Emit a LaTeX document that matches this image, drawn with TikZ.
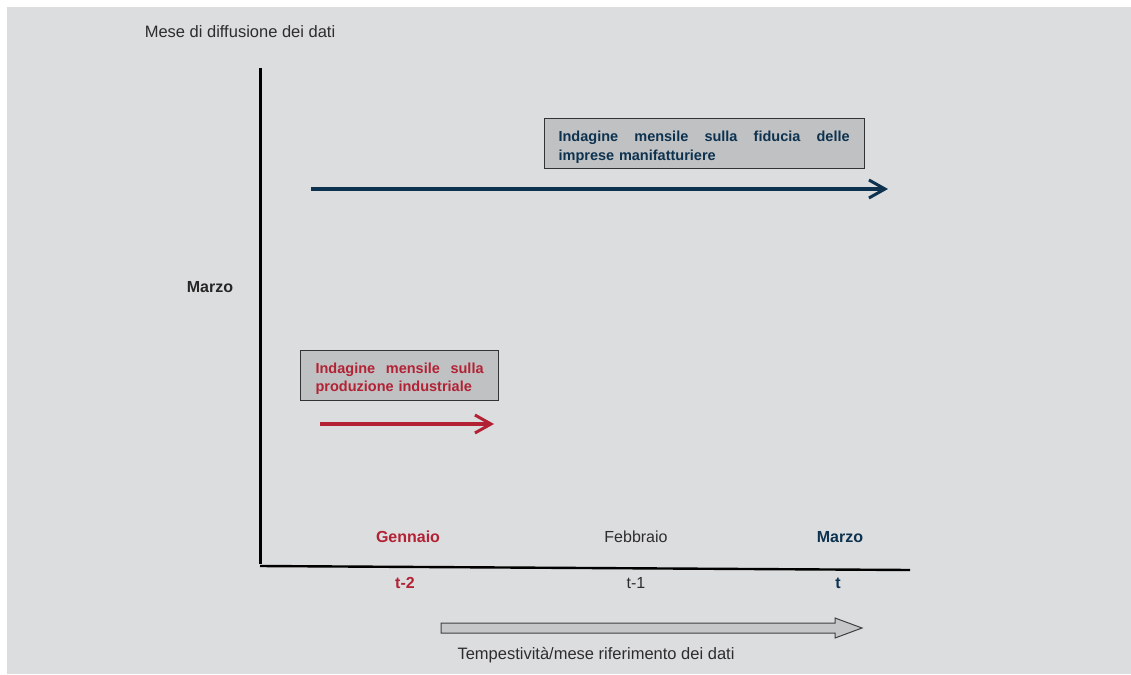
\documentclass[tikz,border=0pt]{standalone}
\usepackage{fontspec}
\setmainfont{Liberation Sans}
\usetikzlibrary{arrows.meta}
\tikzset{>=latex}

\definecolor{bgGray}{RGB}{220,221,223}
\definecolor{boxGray}{RGB}{192,193,195}
\definecolor{istatRed}{RGB}{178,34,52}
\definecolor{istatBlue}{RGB}{12,50,80}
\definecolor{txtGray}{RGB}{45,45,45}

\tikzset{
  surveybox/.style={draw=black!80, line width=1.2pt, fill=boxGray, anchor=north west,
    inner xsep=0pt, inner ysep=0pt, align=left,
    font=\fontsize{14.5}{19}\selectfont\bfseries},
  monthlbl/.style={font=\fontsize{16}{18}\selectfont},
  timeline/.style={line width=3.4pt, -{Straight Barb[length=16pt,width=18pt,line width=3pt]}}
}

\begin{document}
\begin{tikzpicture}[x=1pt,y=-1pt]
      \useasboundingbox (0,0) rectangle (1131,674);
      \fill[bgGray] (7,7) rectangle (1131,674);
      % axes
      \coordinate (ytop) at (260,68);
      \coordinate (orig) at (260,564);
      \coordinate (xstart) at (260,566);
      \coordinate (xend) at (910,570);
      \draw[line width=3pt] (ytop) -- (orig);
      \draw[line width=2.4pt] (xstart) -- (xend);
      \node[font=\fontsize{16.5}{18}\selectfont, text=txtGray] (title) at (240,32) {Mese di diffusione dei dati};
      \node[font=\fontsize{16}{18}\selectfont\bfseries, text=black!85] (release) at (210,287) {Marzo};
      % surveys
      \node[surveybox, text=istatBlue, minimum width=320pt, minimum height=50pt, text width=320pt] (fiducia) at (544,118)
        {\rule{0pt}{17pt}\hspace*{14pt}\makebox[291pt][l]{Indagine\hfill mensile\hfill sulla\hfill fiducia\hfill delle}\\[0pt]\hspace*{14pt}imprese manifatturiere};
      \node[surveybox, text=istatRed, minimum width=198pt, minimum height=50pt, text width=198pt] (produzione) at (300,350)
        {\rule{0pt}{16pt}\hspace*{15pt}\makebox[168pt][l]{Indagine\hfill mensile\hfill sulla}\\[-1pt]\hspace*{15pt}produzione industriale};
      \coordinate (fidA) at (311,189);
      \coordinate (fidB) at (888,189);
      \coordinate (prodA) at (320,424);
      \coordinate (prodB) at (494,424);
      \draw[timeline, istatBlue] (fidA) -- (fidB);
      \draw[timeline, istatRed] (prodA) -- (prodB);
      % reference months
      \node[monthlbl, font=\fontsize{16}{18}\selectfont\bfseries, text=istatRed] (gen) at (408,537) {Gennaio};
      \node[monthlbl, text=txtGray] (feb) at (636,537) {Febbraio};
      \node[monthlbl, font=\fontsize{16}{18}\selectfont\bfseries, text=istatBlue] (mar) at (840,537) {Marzo};
      \node[monthlbl, font=\fontsize{16}{18}\selectfont\bfseries, text=istatRed] (t2) at (405,583) {t-2};
      \node[monthlbl, text=txtGray] (t1) at (636,583) {t-1};
      \node[monthlbl, font=\fontsize{16}{18}\selectfont\bfseries, text=istatBlue] (t0) at (838,583) {t};
      % timeliness
      \draw[fill=boxGray!80!bgGray, draw=black!75, line width=1pt]
        (441,623) -- (835,623) -- (835,618) -- (862,628) -- (835,638) -- (835,633) -- (441,633) -- cycle;
      \node[font=\fontsize{16.5}{18}\selectfont, text=txtGray] (tempo) at (596,655) {Tempestività/mese riferimento dei dati};
\end{tikzpicture}
\end{document}
